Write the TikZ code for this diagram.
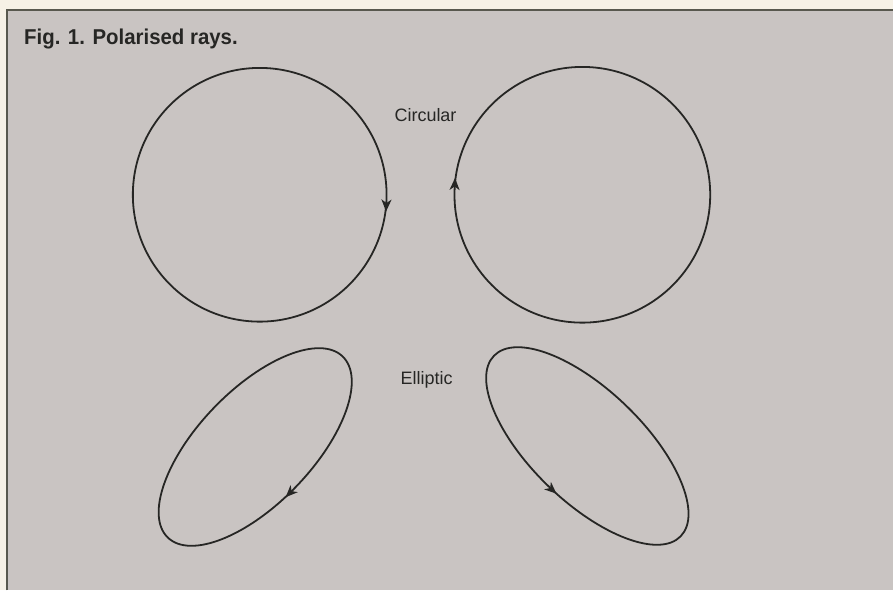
\documentclass[tikz,border=0pt]{standalone}
\usepackage{fontspec}
\setmainfont{Liberation Sans}
\newfontfamily\titlefont[FakeStretch=0.95]{Liberation Sans}
\usetikzlibrary{arrows.meta,decorations.markings}
\definecolor{panelgrey}{RGB}{201,196,194}
\definecolor{papercream}{RGB}{246,241,230}
\definecolor{inkdark}{RGB}{38,38,36}
\definecolor{edgegrey}{RGB}{88,88,78}

\begin{document}
\begin{tikzpicture}[x=1pt, y=1pt, >={Stealth[length=12pt, width=10pt, inset=3.5pt]},
    ray/.style={color=inkdark, line width=1.8pt},
    fwd/.style={postaction={decorate, decoration={markings, mark=at position #1 with {\arrow{>}}}}},
    back/.style={postaction={decorate, decoration={markings, mark=at position #1 with {\arrow{<}}}}},
    label/.style={text=inkdark, inner sep=0pt, font=\fontsize{18}{22}\selectfont}]

    % Paper and panel
    \fill[papercream] (0,0) rectangle (894,591);
    \fill[panelgrey] (7,0) rectangle (894,581);
    \draw[edgegrey, line width=2pt] (7,0) -- (7,581) -- (894,581);

    % Title and labels
    \node[anchor=base west, inner sep=0pt, text=inkdark, font=\titlefont\bfseries\fontsize{21.5}{25}\selectfont] (title) at (24,546) {Fig. 1. Polarised rays.};
    \node[label] (circlbl) at (426,476) {Circular};
    \node[label] (elllbl) at (427,211) {Elliptic};

    % Centres of the rays
    \coordinate (lcirc) at (260,396);
    \coordinate (rcirc) at (583,396);
    \coordinate (lell) at (255.5,143.5);
    \coordinate (rell) at (588,144.5);

    % Circular rays
    \draw[ray, back=0.994] (lcirc) circle[radius=127pt];
    \draw[ray, back=0.494] (rcirc) circle[radius=128pt];

    % Elliptic rays
    \draw[ray, back=0.745] (lell) ellipse[x radius=126pt, y radius=57pt, rotate=46];
    \draw[ray, fwd=0.768] (rell) ellipse[x radius=130pt, y radius=56pt, rotate=-44];
\end{tikzpicture}
\end{document}
